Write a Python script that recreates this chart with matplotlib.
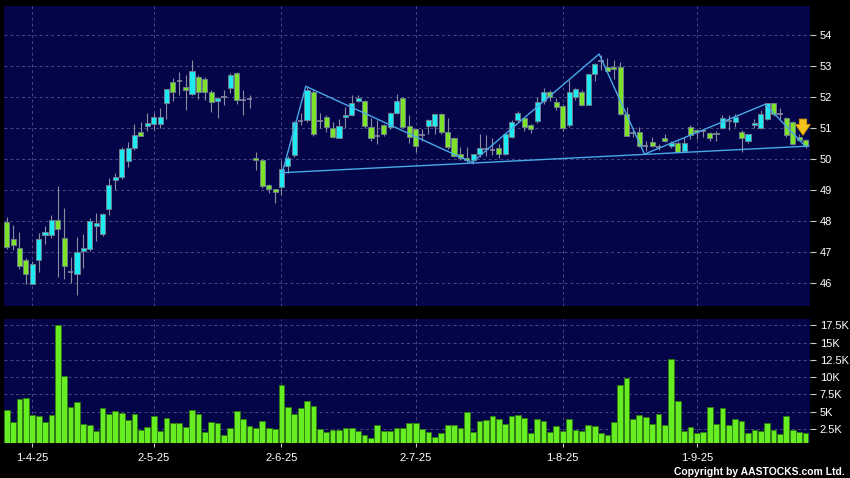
import matplotlib
matplotlib.use("Agg")
import matplotlib.pyplot as plt
from matplotlib.patches import Rectangle
from matplotlib.ticker import FuncFormatter, MultipleLocator

plt.rcParams['font.family'] = ['Liberation Sans', 'DejaVu Sans']

# daily candles (26-3-25 .. 24-9-25)
opens = [47.98, 47.41, 47.12, 46.74, 45.98, 46.74, 47.55, 47.55, 48.05, 47.46,
         46.35, 46.28, 47.04, 47.09, 47.84, 47.57, 48.38, 49.31, 49.41, 49.95,
         50.35, 50.88, 51.07, 51.14, 51.14, 51.80, 52.49, 52.53, 52.34, 52.09,
         52.65, 52.60, 52.15, 51.87, 51.99, 52.28, 52.78, 51.90, 51.93, 50.02,
         49.97, 49.16, 49.02, 49.11, 49.78, 50.13, 51.22, 51.26, 52.17, 51.23,
         51.35, 50.99, 50.69, 51.35, 51.42, 51.87, 51.88, 51.04, 50.74, 51.10,
         51.02, 51.50, 51.96, 51.06, 50.97, 50.77, 51.06, 51.08, 51.45, 50.88,
         50.69, 50.15, 50.04, 49.97, 50.15, 50.32, 50.29, 50.35, 50.15, 50.72,
         51.26, 51.31, 51.10, 51.23, 51.87, 52.17, 51.85, 51.71, 51.10, 51.99,
         52.17, 51.76, 52.73, 53.17, 52.98, 52.98, 52.98, 51.44, 50.85, 50.87,
         50.42, 50.56, 50.38, 50.69, 50.42, 50.51, 50.25, 51.04, 50.94, 50.90,
         50.85, 50.85, 50.99, 51.22, 51.20, 50.88, 50.59, 51.10, 50.99, 51.28,
         51.80, 51.47, 51.31, 51.20, 50.72, 50.61]
highs = [48.14, 47.87, 47.64, 46.80, 46.70, 47.61, 47.84, 48.19, 49.13, 48.43,
         46.85, 47.50, 47.58, 48.10, 48.25, 48.25, 49.40, 49.55, 50.40, 50.55,
         51.13, 51.20, 51.50, 51.50, 51.66, 52.26, 52.62, 52.82, 52.72, 53.20,
         52.72, 52.65, 52.22, 52.00, 52.23, 52.77, 52.81, 52.22, 52.08, 50.24,
         50.00, 49.20, 49.05, 49.98, 50.10, 51.22, 51.50, 52.34, 52.22, 51.50,
         51.42, 51.19, 51.30, 51.69, 52.06, 52.06, 51.92, 51.32, 51.26, 51.14,
         51.52, 52.10, 52.00, 51.42, 51.00, 50.98, 51.30, 51.46, 51.48, 51.33,
         50.72, 50.40, 50.38, 50.17, 50.80, 50.77, 50.68, 50.49, 50.84, 51.25,
         51.55, 51.35, 51.13, 52.00, 52.30, 52.24, 51.98, 51.77, 52.56, 52.30,
         52.24, 52.73, 53.10, 53.35, 53.25, 53.19, 53.13, 51.69, 51.00, 51.05,
         50.58, 50.72, 50.50, 50.82, 50.60, 50.58, 50.70, 51.10, 50.98, 50.98,
         50.88, 50.90, 51.43, 51.43, 51.47, 50.95, 50.82, 51.30, 51.58, 51.82,
         51.82, 51.64, 51.36, 51.24, 50.82, 50.66]
lows = [47.10, 47.06, 46.47, 45.97, 45.98, 46.35, 47.27, 47.45, 46.20, 46.12,
        46.00, 45.61, 46.50, 47.05, 47.36, 47.52, 48.20, 48.99, 49.36, 49.73,
        50.29, 50.73, 50.92, 50.94, 51.00, 51.30, 51.87, 52.06, 51.60, 52.06,
        51.95, 51.90, 51.52, 51.33, 51.76, 52.12, 51.79, 51.42, 51.65, 49.65,
        49.08, 48.90, 48.58, 48.85, 49.55, 50.06, 51.10, 51.19, 50.76, 51.00,
        50.87, 50.68, 50.68, 50.99, 51.38, 51.84, 51.00, 50.60, 50.50, 50.76,
        50.98, 51.46, 51.00, 50.51, 50.24, 50.60, 50.80, 50.81, 50.81, 50.33,
        50.06, 49.97, 49.87, 49.84, 50.06, 50.10, 50.13, 50.02, 50.12, 50.68,
        51.19, 50.90, 50.85, 51.16, 51.79, 51.89, 51.60, 50.90, 51.03, 51.90,
        51.70, 51.73, 52.52, 52.87, 52.81, 52.58, 51.41, 50.73, 50.70, 50.38,
        50.25, 50.40, 50.28, 50.55, 50.35, 50.22, 50.22, 50.65, 50.65, 50.70,
        50.60, 50.60, 50.96, 50.95, 51.05, 50.24, 50.52, 51.00, 50.96, 51.26,
        51.40, 51.30, 50.72, 50.46, 50.58, 50.35]
closes = [47.17, 47.23, 46.56, 46.28, 46.63, 47.41, 47.64, 48.05, 47.76, 46.55,
          46.35, 47.01, 47.12, 48.01, 47.93, 48.22, 49.16, 49.42, 50.31, 50.35,
          50.77, 50.75, 51.15, 51.35, 51.35, 52.26, 52.17, 52.53, 52.24, 52.84,
          52.15, 52.17, 51.85, 51.98, 51.99, 52.71, 51.90, 51.90, 51.93, 49.97,
          49.13, 49.05, 48.95, 49.67, 50.04, 51.20, 51.22, 52.23, 50.81, 51.23,
          51.04, 50.70, 51.06, 51.42, 51.80, 51.96, 51.06, 50.69, 50.74, 50.80,
          51.49, 51.87, 51.04, 50.72, 50.42, 50.77, 51.26, 51.45, 50.88, 50.40,
          50.11, 50.04, 49.97, 50.15, 50.35, 50.32, 50.29, 50.15, 50.80, 51.20,
          51.50, 51.04, 50.97, 51.85, 52.17, 51.99, 51.69, 50.99, 52.17, 52.26,
          51.76, 52.73, 53.06, 53.17, 52.84, 52.90, 51.44, 50.75, 50.85, 50.43,
          50.42, 50.42, 50.38, 50.60, 50.51, 50.24, 50.51, 50.77, 50.88, 50.90,
          50.67, 50.80, 51.31, 51.26, 51.35, 50.67, 50.80, 51.15, 51.45, 51.80,
          51.47, 51.47, 50.77, 50.50, 50.61, 50.42]
volumes_k = [5.24, 3.5, 6.78, 6.97, 4.57, 4.42, 3.5, 4.52, 17.5, 10.14,
             5.72, 6.39, 3.27, 3.13, 2.16, 5.58, 4.71, 5.14, 4.81, 3.8,
             4.66, 2.36, 2.84, 4.33, 2.26, 4.04, 3.41, 3.32, 2.74, 5.29,
             4.66, 2.12, 3.5, 3.37, 1.63, 2.64, 5.05, 3.99, 2.93, 2.64,
             3.6, 2.69, 2.55, 8.94, 5.72, 4.71, 5.58, 6.49, 5.82, 2.5,
             2.02, 2.31, 2.4, 2.69, 2.64, 2.21, 1.59, 1.2, 3.03, 2.26,
             2.21, 2.64, 2.6, 3.32, 3.32, 2.45, 2.07, 1.35, 1.92, 3.08,
             3.03, 2.64, 4.95, 2.07, 3.65, 3.8, 4.42, 3.94, 3.27, 4.38,
             4.57, 4.09, 1.92, 3.99, 3.65, 2.07, 2.93, 2.16, 3.89, 2.31,
             2.26, 3.13, 2.88, 1.97, 1.68, 3.56, 8.8, 9.95, 3.94, 4.57,
             4.18, 3.17, 4.62, 3.13, 12.69, 6.63, 2.21, 2.84, 1.88, 2.02,
             5.67, 3.27, 5.58, 3.13, 3.94, 3.7, 1.92, 2.31, 2.26, 3.37,
             2.31, 1.83, 4.38, 2.36, 2.07, 1.92]

tick_idx = [4, 23, 43, 64, 87, 108]
tick_labels = ["1-4-25", "2-5-25", "2-6-25", "2-7-25", "1-8-25", "1-9-25"]

# drawn trend lines (bar index, price)
support_x = [43, 125.5]
support_y = [49.56, 50.42]
pattern_x = [43.2, 46.8, 72.8, 92.7, 99.8, 118.7, 124.8]
pattern_y = [49.62, 52.35, 49.89, 53.39, 50.16, 51.77, 50.45]
signal_idx = 124.6
signal_top, signal_tip = 51.38, 50.68

navy = '#030548'
up_col = '#1eeaf4'
down_col = '#7ee22a'
grey = '#8a8aa0'
grid_kw = dict(color='#4a4a82', linestyle=(0, (3, 3)), linewidth=0.7)

fig = plt.figure(figsize=(8.5, 4.78), dpi=100, facecolor='black')
ax = fig.add_axes([4/850, 172/478, 806/850, 300/478], facecolor=navy)
axv = fig.add_axes([4/850, 34.7/478, 806/850, 124.3/478], facecolor=navy)

n = len(opens)
for i in range(n):
    o, h, l, c = opens[i], highs[i], lows[i], closes[i]
    ax.vlines(i, l, h, color=grey, linewidth=0.8, zorder=2)
    if abs(c - o) < 0.02:
        ax.hlines(o, i - 0.42, i + 0.42, color=grey, linewidth=1.2, zorder=3)
        continue
    col = up_col if c > o else down_col
    ax.add_patch(Rectangle((i - 0.4, min(o, c)), 0.8, abs(c - o),
                           facecolor=col, edgecolor='#6b7f8c', linewidth=0.7, zorder=3))

ax.plot(support_x, support_y, color='#4aa8e8', linewidth=1.0, zorder=4)
ax.plot(pattern_x, pattern_y, color='#4aa8e8', linewidth=1.0, zorder=4)
ax.annotate('', xy=(signal_idx, signal_tip), xytext=(signal_idx, signal_top),
            arrowprops=dict(arrowstyle='simple,head_width=0.75,head_length=0.55,tail_width=0.38',
                            fc='#f6c21c', ec='#d89a00', lw=0.6, mutation_scale=14),
            zorder=5)

axv.bar(range(n), volumes_k, width=0.9, color='#66ee22', edgecolor='#2f7a12',
        linewidth=0.6, zorder=2)

for a in (ax, axv):
    a.set_xlim(-0.42, 125.7)
    a.set_xticks(tick_idx)
    a.grid(True, **grid_kw)
    a.set_axisbelow(True)
    for s in a.spines.values():
        s.set_visible(False)
    a.yaxis.tick_right()
    a.tick_params(axis='y', colors='#c8c8c8', labelcolor='white', length=4, pad=3,
                  labelsize=8)

ax.set_ylim(45.26, 54.94)
ax.yaxis.set_major_locator(MultipleLocator(1))
ax.tick_params(axis='x', length=0, labelbottom=False)

axv.set_ylim(0.45, 18.4)
axv.yaxis.set_major_locator(MultipleLocator(2.5))
axv.yaxis.set_major_formatter(FuncFormatter(lambda v, p: ('%gK' % v) if v > 0 else ''))
axv.set_xticklabels(tick_labels)
axv.tick_params(axis='x', colors='#c8c8c8', labelcolor='white', length=3, pad=4,
                labelsize=8)

fig.text(845/850, 1 - 472/478, 'Copyright by AASTOCKS.com Ltd.', color='white',
         fontsize=7.5, fontweight='bold', ha='right', va='center')

fig.savefig('out.png', dpi=100, facecolor='black')
